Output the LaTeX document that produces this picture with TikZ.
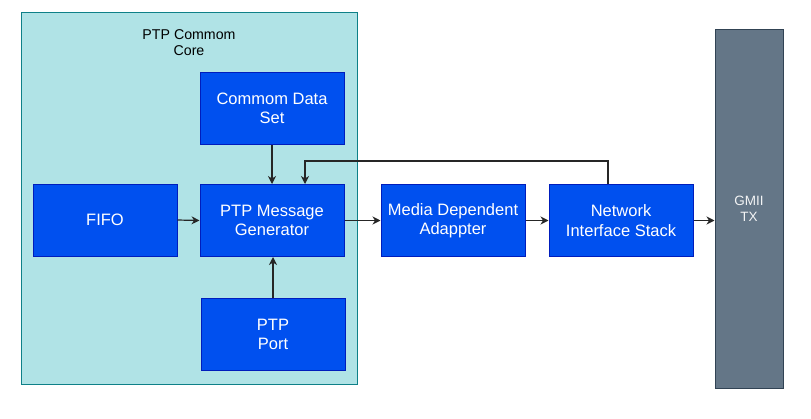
\documentclass[tikz,border=0pt]{standalone}
\usepackage{fontspec}
\setmainfont{Liberation Sans}
\usetikzlibrary{arrows.meta}
\definecolor{corefill}{HTML}{B0E3E6}
\definecolor{coreline}{HTML}{0E8088}
\definecolor{blockfill}{HTML}{0050EF}
\definecolor{blockline}{HTML}{001DBC}
\definecolor{gmiifill}{HTML}{647687}
\definecolor{gmiiline}{HTML}{314354}
\begin{document}
\begin{tikzpicture}[x=1pt,y=-1pt,
  block/.style={draw=blockline, fill=blockfill, line width=1pt, minimum width=144pt,
    minimum height=72pt, inner sep=0pt, align=center, text=white,
    font=\fontsize{16.5}{19.5}\selectfont},
  link/.style={line width=1.2pt, draw=black!85, -{Stealth[length=8pt,width=8pt,inset=2.5pt]}}]
  \useasboundingbox (0,0) rectangle (811,418);
  % core container
  \node[draw=coreline, fill=corefill, line width=1pt, minimum width=336pt, minimum height=372pt,
    inner sep=0pt, anchor=north west] (core) at (21,12) {};
  \node[align=center, font=\fontsize{14.2}{16}\selectfont] (title) at (189,42.5) {PTP Commom\\Core};
  % blocks
  \node[block] (cds) at (272,108.5) {Commom Data\\Set};
  \node[block] (fifo) at (105,220) {FIFO};
  \node[block] (pmg) at (272,220.5) {PTP Message\\Generator};
  \node[block] (port) at (273,334.5) {PTP\\Port};
  \node[block] (mda) at (453,220.5) {Media Dependent\\Adappter};
  \node[block] (nis) at (621,220.5) {Network\\Interface Stack};
  \node[draw=gmiiline, fill=gmiifill, line width=1pt, minimum width=68pt, minimum height=359pt,
    inner sep=0pt, align=center, text=white!92!gmiifill, font=\fontsize{13.5}{16}\selectfont]
    (gmii) at (749,208.5) {GMII\\TX};
  % connectors
  \draw[link] (cds.south) -- (pmg.north);
  \draw[link] (fifo.east) -- (pmg.west);
  \draw[link] (pmg.east) -- (mda.west);
  \draw[link] (port.north) -- (port.north |- pmg.south);
  \draw[link] (mda.east) -- (nis.west);
  \draw[link] (nis.east) -- (gmii.west |- nis.east);
  \coordinate (fbr) at (608,161);
  \coordinate (fbl) at (305,161);
  \draw[link] (nis.north -| fbr) -- (fbr) -- (fbl) -- (fbl |- pmg.north);
\end{tikzpicture}
\end{document}
